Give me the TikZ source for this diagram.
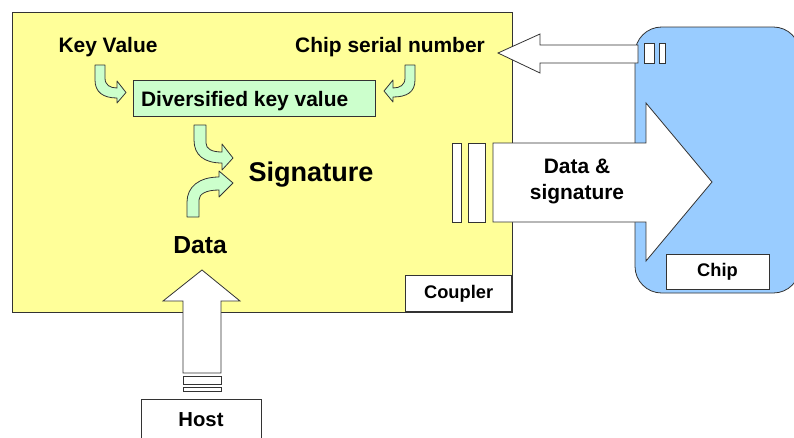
\documentclass[tikz,border=0pt]{standalone}
\usepackage{fontspec}
\setmainfont{Liberation Sans}
\definecolor{coupler}{HTML}{FFFF99}
\definecolor{chipblue}{HTML}{99CCFF}
\definecolor{mint}{HTML}{CCFFCC}
\definecolor{edge}{HTML}{333333}
\tikzset{
  ol/.style={draw=edge, line width=0.6pt},
  lbl/.style={font=\bfseries\fontsize{15.7}{19}\selectfont, inner sep=0pt},
  bentarrow/.style={ol, fill=mint, line join=round},
  wbox/.style={ol, fill=white},
}
\begin{document}
\begin{tikzpicture}[x=0.75pt,y=-0.75pt]
\useasboundingbox (0,0) rectangle (794,437);
% coupler
\draw[ol, fill=coupler] (12,12) rectangle (512,312);
\node[wbox, minimum width=106*0.75pt, minimum height=36*0.75pt, inner sep=0pt, anchor=south east,
  font=\bfseries\fontsize{13.7}{16}\selectfont] (coup) at (512,312) {Coupler};
% chip
\draw[ol, fill=chipblue, rounded corners=20pt] (635,27) rectangle (800,293);
\node[wbox, minimum width=103*0.75pt, minimum height=35*0.75pt, inner sep=0pt,
  font=\bfseries\fontsize{13.7}{16}\selectfont] (chip) at (717.5,271.5) {Chip};
% texts
\node[lbl] (kv) at (108,47) {Key Value};
\node[lbl] (csn) at (390,47) {Chip serial number};
\node[ol, fill=mint, minimum width=242*0.75pt, minimum height=36*0.75pt, inner sep=0pt,
  font=\bfseries\fontsize{15.7}{19}\selectfont] (dkv) at (254,98) {\hspace*{-14pt}\raisebox{-2.5pt}[\height][\depth]{Diversified key value}};
\node[inner sep=0pt, font=\bfseries\fontsize{20.3}{24}\selectfont] (sig) at (311,175) {Signature};
\node[inner sep=0pt, font=\bfseries\fontsize{18.5}{22}\selectfont] (data) at (200,245) {Data};
% curved arrows
\draw[bentarrow] (95,65) -- (105,65) -- (105,78) .. controls (105,85) and (110,88) .. (117,88) -- (117,81) -- (126,92.5) -- (117,103) -- (117,98) .. controls (103,98) and (95,92) .. (95,80) -- cycle;
\draw[bentarrow] (415,65) -- (405,65) -- (405,78) .. controls (405,85) and (400,88) .. (393,88) -- (393,80) -- (384,91) -- (393,102) -- (393,97) .. controls (407,97) and (415,92) .. (415,80) -- cycle;
\draw[bentarrow] (194,125) -- (206,125) -- (206,143) .. controls (206,149) and (212,152) .. (222,152) -- (222,144) -- (233,158) -- (222,170) -- (222,163) .. controls (204,163) and (194,155) .. (194,140) -- cycle;
\draw[bentarrow] (187,217) -- (199,217) -- (199,200) .. controls (199,194) and (206,190) .. (219,190) -- (219,197) -- (233,183) -- (219,171) -- (219,177) .. controls (199,177) and (187,187) .. (187,202) -- cycle;
% serial number arrow (chip -> coupler)
\draw[wbox] (638,45) -- (540,45) -- (540,34) -- (498,53) -- (540,73) -- (540,63) -- (638,63) -- cycle;
\draw[wbox] (644,43) rectangle (654,63);
\draw[wbox] (659,43) rectangle (665,63);
% data & signature arrow
\draw[wbox] (493,143) -- (646,143) -- (646,103) -- (712,182) -- (646,261) -- (646,222) -- (493,222) -- cycle;
\draw[wbox] (452,143) rectangle (461,222);
\draw[wbox] (468,143) rectangle (485,222);
\node[lbl, align=center, font=\bfseries\fontsize{15.7}{19.5}\selectfont] (ds) at (577,181) {Data \&\\signature};
% host arrow
\draw[wbox] (183,373) -- (183,301) -- (163,301) -- (202,270) -- (240,301) -- (221,301) -- (221,373) -- cycle;
\draw[wbox] (183,376) rectangle (221,384);
\draw[wbox] (183,387) rectangle (221,391);
\draw[wbox] (141,440) -- (141,399) -- (261,399) -- (261,440);
\node[inner sep=0pt, font=\bfseries\fontsize{15.2}{18}\selectfont] (host) at (201,420) {Host};
\end{tikzpicture}
\end{document}
